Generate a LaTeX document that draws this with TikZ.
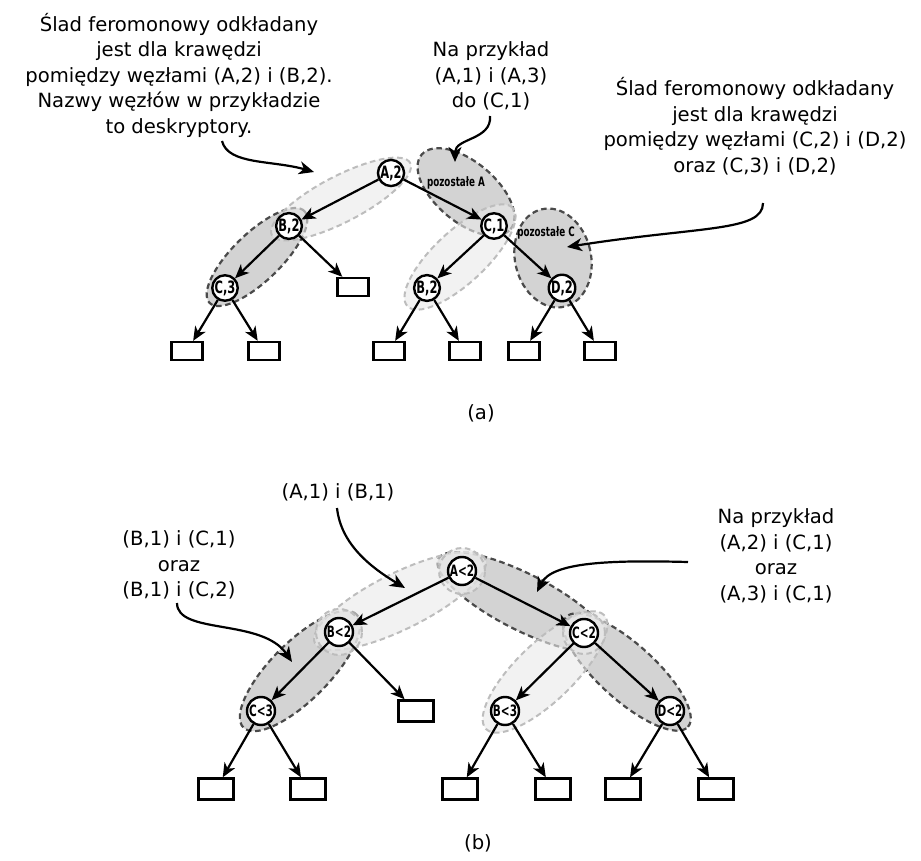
\documentclass[tikz,border=0pt]{standalone}
\usepackage{fontspec}
\setmainfont{DejaVu Sans}
\newfontfamily\condfont{DejaVu Sans Condensed}[FakeStretch=0.75]
\usetikzlibrary{arrows.meta,shapes.geometric}
\definecolor{blobpale}{HTML}{E9E9E9}
\definecolor{blobpaleline}{HTML}{BDBDBD}
\definecolor{blobdark}{HTML}{D3D3D3}
\definecolor{blobdarkline}{HTML}{4A4A4A}
\tikzset{
  treenode/.style={
    circle, draw, line width=1.2pt, fill=white, inner sep=0pt,
    minimum size=12pt, font=\condfont\bfseries\fontsize{8.5}{9}\selectfont
  },
  bignode/.style={treenode, minimum size=14pt, font=\condfont\bfseries\fontsize{7.8}{8}\selectfont},
  leafbox/.style={
    rectangle, draw, line width=1.2pt, fill=white, inner sep=0pt,
    minimum width=15.5pt, minimum height=9pt
  },
  bigleaf/.style={leafbox, minimum width=17.5pt, minimum height=10.5pt},
  treearrow/.style={-{Stealth[length=7pt,width=6pt,inset=2pt]}, line width=1.1pt},
  notearrow/.style={-{Stealth[length=7.5pt,width=6.5pt,inset=2.2pt]}, line width=1.1pt},
  notetext/.style={align=center, inner sep=0pt, font=\fontsize{9.8}{12.75}\selectfont},
  paleblob/.style={
    ellipse, draw=blobpaleline, line width=1pt, dash pattern=on 2.8pt off 1.8pt,
    fill=blobpale, fill opacity=0.6, inner sep=0pt
  },
  darkblob/.style={
    ellipse, draw=blobdarkline, line width=1.1pt, dash pattern=on 2.8pt off 1.8pt,
    fill=blobdark, inner sep=0pt
  },
  bloblabel/.style={inner sep=0pt, font=\condfont\bfseries\fontsize{6.5}{7}\selectfont}
}

\begin{document}
\begin{tikzpicture}[x=0.5pt, y=-0.5pt]
  \useasboundingbox (0,0) rectangle (921,861);

  % (a) pheromone regions
  \node[darkblob, rotate=44, minimum width=66pt, minimum height=24pt]  (ebc)  at (257,257) {};
  \node[darkblob, rotate=-40, minimum width=58pt, minimum height=30pt] (erestA) at (466,192) {};
  \node[darkblob, rotate=13, minimum width=38pt, minimum height=50pt]  (erestC) at (553,258) {};
  \node[paleblob, rotate=27.5, minimum width=78pt, minimum height=23pt] (eab) at (341,199) {};
  \node[paleblob, rotate=43, minimum width=72pt, minimum height=26pt]  (ecb) at (460,257) {};
  \node[bloblabel] (lrestA) at (456,183) {pozostałe A};
  \node[bloblabel] (lrestC) at (546,233) {pozostałe C};

  % (a) tree nodes
  \node[treenode] (nA)  at (391,173) {A,2};
  \node[treenode] (nB)  at (289,226) {B,2};
  \node[treenode] (nC)  at (494,226) {C,1};
  \node[treenode] (nCc) at (225,288) {C,3};
  \node[treenode] (nBb) at (427,288) {B,2};
  \node[treenode] (nD)  at (562,288) {D,2};
  \node[leafbox] (lf1) at (187,351) {};
  \node[leafbox] (lf2) at (264,351) {};
  \node[leafbox] (lf3) at (353,287) {};
  \node[leafbox] (lf4) at (389,351) {};
  \node[leafbox] (lf5) at (465,351) {};
  \node[leafbox] (lf6) at (524,351) {};
  \node[leafbox] (lf7) at (600,351) {};

  % (a) edges
  \draw[treearrow] (nA)  -- (nB);
  \draw[treearrow] (nA)  -- (nC);
  \draw[treearrow] (nB)  -- (nCc);
  \draw[treearrow] (nB)  -- (lf3);
  \draw[treearrow] (nCc) -- (lf1);
  \draw[treearrow] (nCc) -- (lf2);
  \draw[treearrow] (nC)  -- (nBb);
  \draw[treearrow] (nC)  -- (nD);
  \draw[treearrow] (nBb) -- (lf4);
  \draw[treearrow] (nBb) -- (lf5);
  \draw[treearrow] (nD)  -- (lf6);
  \draw[treearrow] (nD)  -- (lf7);

  % (a) notes
  \node[notetext] (noteab) at (179,75)
    {Ślad feromonowy odkładany\\jest dla krawędzi\\pomiędzy węzłami (A,2) i (B,2).\\Nazwy węzłów w przykładzie\\to deskryptory.};
  \node[notetext] (noteA) at (491,76) {Na przykład\\(A,1) i (A,3)\\do (C,1)};
  \node[notetext] (noteC) at (755,126)
    {Ślad feromonowy odkładany\\jest dla krawędzi\\pomiędzy węzłami (C,2) i (D,2)\\oraz (C,3) i (D,2)};
  \node[notetext] (capa) at (481,413) {(a)};
  \coordinate (pab1) at (222,141);  \coordinate (pab2) at (314,172);
  \coordinate (pA1)  at (490,116);  \coordinate (pA2)  at (455,162);
  \coordinate (pC1)  at (763,203);  \coordinate (pC2)  at (567,247);
  \draw[notearrow] (pab1) .. controls (228,165) and (272,160) .. (pab2);
  \draw[notearrow] (pA1) .. controls (492,140) and (455,138) .. (pA2);
  \draw[notearrow] (pC1) .. controls (763,232) and (700,226) .. (pC2);

  % (b) pheromone regions
  \node[darkblob, rotate=-27, minimum width=95pt, minimum height=28pt] (fac) at (523,602) {};
  \node[darkblob, rotate=-42, minimum width=82pt, minimum height=28pt] (fcd) at (627,672) {};
  \node[darkblob, rotate=45, minimum width=80pt, minimum height=29pt]  (fbc) at (300,671) {};
  \node[paleblob, rotate=26.4, minimum width=95pt, minimum height=28pt] (fab) at (400,601) {};
  \node[paleblob, rotate=44, minimum width=82pt, minimum height=29pt]  (fcb) at (545,672) {};
  \node[paleblob, circle, minimum size=23pt] (haloA) at (462,571) {};
  \node[paleblob, circle, minimum size=23pt] (haloB) at (339,632) {};
  \node[paleblob, circle, minimum size=21pt] (haloC) at (584,633) {};

  % (b) tree nodes
  \node[bignode] (mA)  at (462,571) {A<2};
  \node[bignode] (mB)  at (339,632) {B<2};
  \node[bignode] (mC)  at (584,633) {C<2};
  \node[bignode] (mCc) at (261,711) {C<3};
  \node[bignode] (mBb) at (505,711) {B<3};
  \node[bignode] (mD)  at (670,711) {D<2};
  \node[bigleaf] (lg1) at (216,789) {};
  \node[bigleaf] (lg2) at (308,789) {};
  \node[bigleaf] (lg3) at (416,711) {};
  \node[bigleaf] (lg4) at (460,789) {};
  \node[bigleaf] (lg5) at (553,789) {};
  \node[bigleaf] (lg6) at (623,789) {};
  \node[bigleaf] (lg7) at (716,789) {};

  % (b) edges
  \draw[treearrow] (mA)  -- (mB);
  \draw[treearrow] (mA)  -- (mC);
  \draw[treearrow] (mB)  -- (mCc);
  \draw[treearrow] (mB)  -- (lg3);
  \draw[treearrow] (mCc) -- (lg1);
  \draw[treearrow] (mCc) -- (lg2);
  \draw[treearrow] (mC)  -- (mBb);
  \draw[treearrow] (mC)  -- (mD);
  \draw[treearrow] (mBb) -- (lg4);
  \draw[treearrow] (mBb) -- (lg5);
  \draw[treearrow] (mD)  -- (lg6);
  \draw[treearrow] (mD)  -- (lg7);

  % (b) notes
  \node[notetext] (noteAB) at (338,492) {(A,1) i (B,1)};
  \node[notetext] (noteBC) at (179,565) {(B,1) i (C,1)\\oraz\\(B,1) i (C,2)};
  \node[notetext] (noteAC) at (776,556) {Na przykład\\(A,2) i (C,1)\\oraz\\(A,3) i (C,1)};
  \node[notetext] (capb) at (478,843) {(b)};
  \coordinate (qab1) at (337,508);  \coordinate (qab2) at (405,588);
  \coordinate (qbc1) at (177,603);  \coordinate (qbc2) at (292,662);
  \coordinate (qac1) at (688,562);  \coordinate (qac2) at (537,592);
  \draw[notearrow] (qab1) .. controls (341,545) and (372,568) .. (qab2);
  \draw[notearrow] (qbc1) .. controls (177,635) and (262,618) .. (qbc2);
  \draw[notearrow] (qac1) .. controls (610,560) and (552,562) .. (qac2);
\end{tikzpicture}
\end{document}
